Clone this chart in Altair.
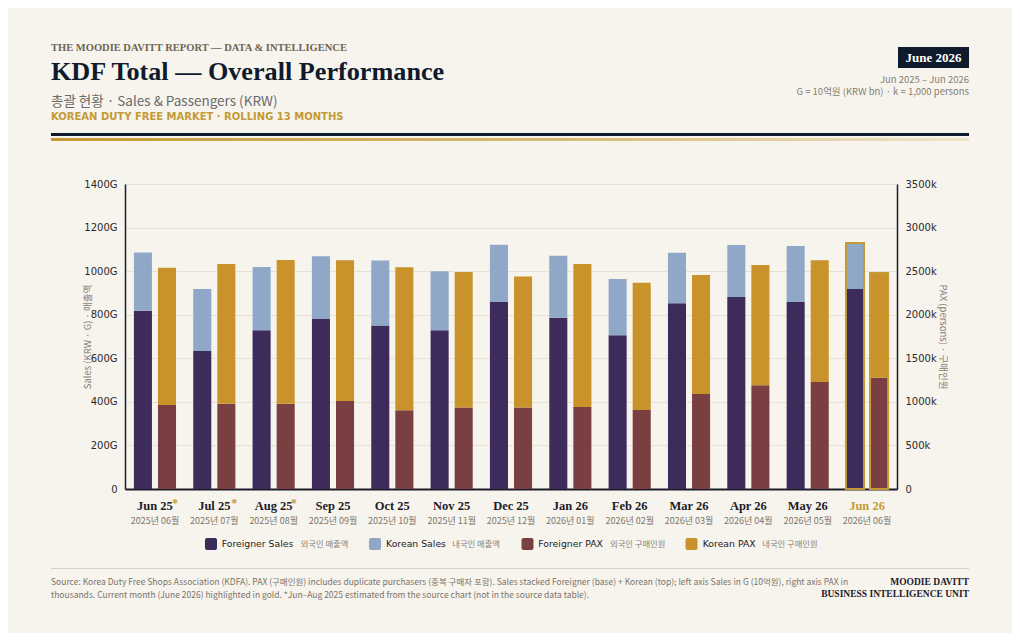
import altair as alt
import pandas as pd

# ---------------- data ----------------
months = ["Jun 25", "Jul 25", "Aug 25", "Sep 25", "Oct 25", "Nov 25", "Dec 25",
          "Jan 26", "Feb 26", "Mar 26", "Apr 26", "May 26", "Jun 26"]
months_kr = ["2025년 06월", "2025년 07월", "2025년 08월", "2025년 09월", "2025년 10월",
             "2025년 11월", "2025년 12월", "2026년 01월", "2026년 02월", "2026년 03월",
             "2026년 04월", "2026년 05월", "2026년 06월"]
estimated = [True, True, True, False, False, False, False, False, False, False, False, False, False]
# Sales in G (10억원)
foreign_sales = [818, 633, 729, 780, 751, 729, 858, 786, 706, 853, 881, 858, 918]
korean_sales = [268, 285, 290, 288, 298, 270, 263, 285, 258, 232, 239, 257, 211]
# PAX in thousands of persons
foreign_pax = [964, 979, 979, 1010, 905, 935, 935, 941, 907, 1090, 1190, 1228, 1278]
korean_pax = [1576, 1603, 1649, 1614, 1640, 1555, 1503, 1641, 1459, 1366, 1380, 1396, 1201]
current_month = "Jun 26"

df = pd.DataFrame({
    "month": months,
    "month_kr": months_kr,
    "estimated": estimated,
    "foreign_sales": foreign_sales,
    "korean_sales": korean_sales,
    "foreign_pax": foreign_pax,
    "korean_pax": korean_pax,
})
df["total_sales"] = df["foreign_sales"] + df["korean_sales"]
df["total_pax"] = df["foreign_pax"] + df["korean_pax"]
df["current"] = df["month"] == current_month

one = pd.DataFrame({"a": [0]})

# ---------------- styles ----------------
BG = "#f7f4ee"
NAVY = "#0f1b2d"
DARK = "#1c1c28"
FS_C = "#3d2b5c"
KS_C = "#8fa8c8"
FP_C = "#7a3f41"
KP_C = "#c9922b"
GOLD = "#c49a34"
GRAY = "#857d70"
SERIF = "Liberation Serif"
SANS = "DejaVu Sans"
CJK = "Noto Sans CJK KR"

x_axis = alt.Axis(title=None, labels=False, ticks=False, grid=False,
                  domain=True, domainColor=DARK, domainWidth=2)
X = alt.X("month:N", sort=months,
          scale=alt.Scale(paddingInner=0.29, paddingOuter=0.15), axis=x_axis)


def XO():
    return alt.XOffset("grp:N", scale=alt.Scale(domain=["S", "P"], paddingInner=0.25, paddingOuter=0))


left_axis = alt.Axis(
    orient="left", values=[0, 200, 400, 600, 800, 1000, 1200, 1400],
    labelExpr="datum.value == 0 ? '0' : datum.value + 'G'",
    domain=True, domainColor=DARK, domainWidth=1.5, ticks=False,
    grid=True, gridColor="#e8e2d6", gridWidth=1,
    labelFont=SANS, labelFontSize=10, labelColor="#2a2a2a", labelPadding=8,
    title="Sales (KRW · G) · 매출액", titleFont=CJK, titleFontSize=9.5,
    titleFontWeight="normal", titleColor=GRAY, titleX=-33,
)
right_axis = alt.Axis(
    orient="right", values=[0, 500, 1000, 1500, 2000, 2500, 3000, 3500],
    labelExpr="datum.value == 0 ? '0' : datum.value + 'k'",
    domain=True, domainColor=DARK, domainWidth=1.5, ticks=False, grid=False,
    labelFont=SANS, labelFontSize=10, labelColor="#2a2a2a", labelPadding=8,
    title="PAX (persons) · 구매인원", titleFont=CJK, titleFontSize=9.5,
    titleFontWeight="normal", titleColor=GRAY, titleX=40,
)
YS = alt.Scale(domain=[0, 1400], nice=False)
YP = alt.Scale(domain=[0, 3500], nice=False)

base = alt.Chart(df)

# ---------------- sales bars ----------------
fs = base.transform_calculate(grp="'S'").mark_bar(color=FS_C).encode(
    x=X, xOffset=XO(), y=alt.Y("foreign_sales:Q", scale=YS, axis=left_axis))
ks = base.transform_calculate(grp="'S'").mark_bar(color=KS_C).encode(
    x=X, xOffset=XO(), y=alt.Y("foreign_sales:Q", scale=YS, axis=left_axis), y2="total_sales:Q")
hs = base.transform_filter(alt.datum.current).transform_calculate(grp="'S'").mark_bar(
    fillOpacity=0, stroke=GOLD, strokeWidth=2).encode(
    x=X, xOffset=XO(), y=alt.Y("total_sales:Q", scale=YS, axis=left_axis))
sales = alt.layer(fs, ks, hs)

# ---------------- pax bars ----------------
fp = base.transform_calculate(grp="'P'").mark_bar(color=FP_C).encode(
    x=X, xOffset=XO(), y=alt.Y("foreign_pax:Q", scale=YP, axis=right_axis))
kp = base.transform_calculate(grp="'P'").mark_bar(color=KP_C).encode(
    x=X, xOffset=XO(), y=alt.Y("foreign_pax:Q", scale=YP, axis=right_axis), y2="total_pax:Q")
hp = base.transform_filter(alt.datum.current).transform_calculate(grp="'P'").mark_bar(
    fillOpacity=0, stroke=GOLD, strokeWidth=2).encode(
    x=X, xOffset=XO(), y=alt.Y("total_pax:Q", scale=YP, axis=right_axis))
pax = alt.layer(fp, kp, hp)

# ---------------- month labels ----------------
lab_month = base.mark_text(font=SERIF, fontWeight="bold", fontSize=12.5, baseline="middle").encode(
    x=X, y=alt.value(322), text="month:N",
    color=alt.condition(alt.datum.current, alt.value(GOLD), alt.value(DARK)))
lab_kr = base.mark_text(font=CJK, fontSize=9, baseline="middle", color="#7d766b").encode(
    x=X, y=alt.value(337), text="month_kr:N")
lab_star = base.transform_filter(alt.datum.estimated).mark_text(
    text="*", font=SERIF, fontWeight="bold", fontSize=12, baseline="middle", color=GOLD, dx=20, dy=-3
).encode(x=X, y=alt.value(322))


# ---------------- decorations ----------------
def txt(s, x, y, **kw):
    return alt.Chart(one).mark_text(text=s, baseline="middle", **kw).encode(
        x=alt.value(x), y=alt.value(y))


def box(x1, x2, y1, y2, **kw):
    return alt.Chart(one).mark_rect(**kw).encode(
        x=alt.value(x1), x2=alt.value(x2), y=alt.value(y1), y2=alt.value(y2))


deco = [
    txt("THE MOODIE DAVITT REPORT — DATA & INTELLIGENCE", -74, -136, align="left",
        font=SERIF, fontWeight="bold", fontSize=10.5, color="#6e6453"),
    txt("KDF Total — Overall Performance", -74, -112, align="left",
        font=SERIF, fontWeight="bold", fontSize=26.2, color=NAVY),
    txt("총괄 현황 · Sales & Passengers (KRW)", -74, -82, align="left",
        font=CJK, fontSize=13.5, color="#6a6a6a"),
    txt("KOREAN DUTY FREE MARKET · ROLLING 13 MONTHS", -74, -67, align="left",
        font=SANS, fontWeight="bold", fontSize=10, color=GOLD),
    box(-74, 844, -51, -48, color=NAVY),
    box(-74, 844, -46, -43, color=alt.LinearGradient(
        gradient="linear", x1=0, x2=1, y1=0, y2=0,
        stops=[alt.GradientStop(color="#c49a34", offset=0),
               alt.GradientStop(color="#d9bd7a", offset=0.6),
               alt.GradientStop(color="#efe4cb", offset=1)])),
    box(773, 844, -137, -116, color=NAVY),
    txt("June 2026", 808.5, -126.5, align="center", font=SERIF, fontWeight="bold",
        fontSize=13, color="#ffffff"),
    txt("Jun 2025 – Jun 2026", 844, -104, align="right", font=CJK, fontSize=9.5, color=GRAY),
    txt("G = 10억원 (KRW bn) · k = 1,000 persons", 844, -92, align="right",
        font=CJK, fontSize=9.5, color=GRAY),
    # footer
    box(-74, 844, 384, 385, color="#d6d0c4"),
    txt("Source: Korea Duty Free Shops Association (KDFA). PAX (구매인원) includes duplicate purchasers "
        "(중복 구매자 포함). Sales stacked Foreigner (base) + Korean (top); left axis Sales in G (10억원), "
        "right axis PAX in", -74, 398, align="left", font=CJK, fontSize=8.5, color="#7a7367"),
    txt("thousands. Current month (June 2026) highlighted in gold. *Jun–Aug 2025 estimated from the "
        "source chart (not in the source data table).", -74, 411, align="left", font=CJK,
        fontSize=8.5, color="#7a7367"),
    txt("MOODIE DAVITT", 844, 398, align="right", font=SERIF, fontWeight="bold",
        fontSize=9.5, color=DARK),
    txt("BUSINESS INTELLIGENCE UNIT", 844, 410, align="right", font=SERIF, fontWeight="bold",
        fontSize=9.5, color=DARK),
]

legend_items = [
    ("Foreigner Sales", "외국인 매출액", FS_C, 80, 96.7, 175.7),
    ("Korean Sales", "내국인 매출액", KS_C, 244, 261, 327.3),
    ("Foreigner PAX", "외국인 구매인원", FP_C, 396.5, 413.3, 485),
    ("Korean PAX", "내국인 구매인원", KP_C, 560.5, 577.7, 637.3),
]
for name, kr, col, sx, tx, kx in legend_items:
    deco.append(box(sx, sx + 12, 354, 366, color=col, cornerRadius=2))
    deco.append(txt(name, tx, 360, align="left", font=SANS, fontSize=9.3, color="#222222"))
    deco.append(txt(kr, kx, 361, align="left", font=CJK, fontSize=8.3, color="#8a8378"))

chart = alt.layer(sales, pax, lab_month, lab_kr, lab_star, *deco).resolve_scale(
    y="independent"
).properties(
    width=772, height=305,
    padding={"left": 117, "top": 176, "right": 115, "bottom": 144},
    autosize=alt.AutoSizeParams(type="none"),
    background=BG,
).configure_view(stroke=None)

chart.save("out.html", embed_options={"renderer": "svg", "actions": False})
